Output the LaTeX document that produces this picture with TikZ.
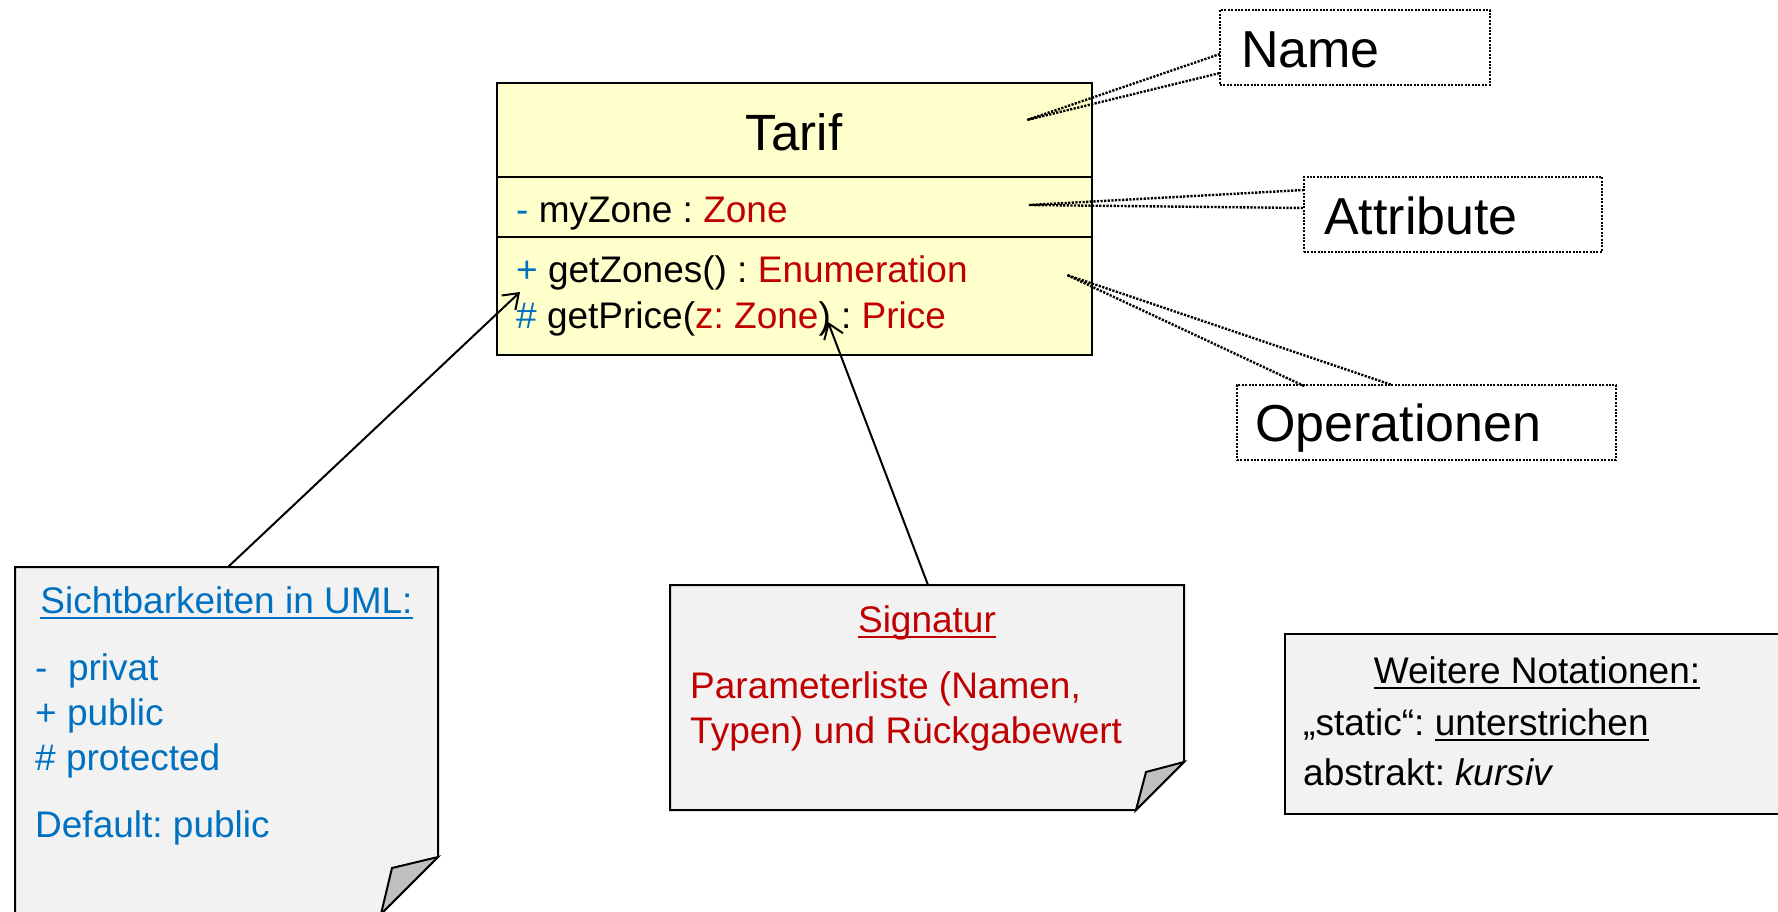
\documentclass[tikz,border=0pt]{standalone}
\usepackage{fontspec}
\setmainfont{Liberation Sans}
\usetikzlibrary{arrows.meta}
\frenchspacing

\definecolor{umlblue}{HTML}{0070C0}
\definecolor{umlred}{HTML}{C00000}
\definecolor{classfill}{HTML}{FFFFCC}
\definecolor{notefill}{HTML}{F2F2F2}
\definecolor{foldfill}{HTML}{C0C0C0}

% underline with a fixed offset below the baseline
\newsavebox\ulinebox
\newcommand\ulinetext[1]{\sbox\ulinebox{#1}\rlap{\rule[-0.16em]{\wd\ulinebox}{0.055em}}\usebox\ulinebox}

\newcommand\bodyfont{\fontsize{37}{44}\selectfont}
\newcommand\labelfont{\fontsize{52}{60}\selectfont}
\newcommand\titlefont{\fontsize{51}{60}\selectfont}

\begin{document}
\begin{tikzpicture}[x=1pt,y=-1pt,
  compartment/.style={draw=black, fill=classfill, line width=2.5pt, minimum width=595pt,
    inner sep=0pt, outer sep=0pt, anchor=north west},
  txt/.style={inner sep=0pt, anchor=base west, font=\bodyfont},
  lbl/.style={inner sep=0pt, anchor=base west, font=\labelfont},
  labelbox/.style={draw=black, line width=2.2pt, dash pattern=on 2pt off 1.4pt,
    inner sep=0pt, outer sep=0pt, anchor=north west, minimum height=75pt},
  callout/.style={draw=black, line width=2.4pt, dash pattern=on 2.2pt off 1.4pt},
  note/.style={draw=black, fill=notefill, line width=2pt, line join=miter},
  fold/.style={draw=black, fill=foldfill, line width=2pt, line join=miter},
  pointer/.style={draw=black, line width=2pt, -{Straight Barb[length=14pt,width=20pt]}}
]
\useasboundingbox (0,0) rectangle (1778,912);
\fill[white] (0,0) rectangle (1778,912);
\clip (0,0) rectangle (1778,912);

% ---- class Tarif ----
\node[compartment, minimum height=94pt]  (cname) at (497,83)  {};
\node[compartment, minimum height=60pt]  (cattr) at (497,177) {};
\node[compartment, minimum height=118pt] (cops)  at (497,237) {};

\node[inner sep=0pt, anchor=base, font=\titlefont] (tarif) at (794,151) {Tarif};
\node[txt] (attr) at (516,223) {\textcolor{umlblue}{-} myZone : \textcolor{umlred}{Zone}};
\node[txt] (op1) at (516,283) {\textcolor{umlblue}{+} getZones() : \textcolor{umlred}{Enumeration}};
\node[txt] (op2) at (516,328) {\textcolor{umlblue}{\#} getPrice(\textcolor{umlred}{z: Zone}) : \textcolor{umlred}{Price}};

% ---- compartment labels ----
\node[labelbox, minimum width=270pt] (namebox) at (1220,10) {};
\node[lbl] (nametxt) at (1241,68) {Name};
\node[labelbox, minimum width=298pt] (attrbox) at (1304,177) {};
\node[lbl] (attrtxt) at (1324,235) {Attribute};
\node[labelbox, minimum width=379pt] (opsbox) at (1237,385) {};
\node[lbl] (opstxt) at (1255,441) {Operationen};

% callout wedges from the compartments to the labels
\coordinate (namept) at (1027,120);
\coordinate (nameA) at (1220,54);
\coordinate (nameB) at (1220,73);
\draw[callout] (nameA) -- (namept) -- (nameB);

\coordinate (attrpt) at (1029,205);
\coordinate (attrA) at (1304,190);
\coordinate (attrB) at (1304,208);
\draw[callout] (attrA) -- (attrpt) -- (attrB);

\coordinate (opspt) at (1067,275);
\coordinate (opsA) at (1304,386);
\coordinate (opsB) at (1392,385);
\draw[callout] (opsA) -- (opspt) -- (opsB);

% ---- note: visibilities ----
\path (15,567) coordinate (vNW) (438,567) coordinate (vNE) (438,857) coordinate (vFold)
      (381,914) coordinate (vFoldB) (15,914) coordinate (vSW) (392,868) coordinate (vTip);
\draw[note] (vNW) -- (vNE) -- (vFold) -- (vFoldB) -- (vSW) -- cycle;
\draw[fold] (vFold) -- (vTip) -- (vFoldB) -- cycle;

\begin{scope}[every node/.append style={text=umlblue}]
\node[inner sep=0pt, anchor=base, font=\bodyfont] (vishead) at (226.5,613) {\ulinetext{Sichtbarkeiten in UML:}};
\node[txt] (vis1) at (35,680) {-\ \ privat};
\node[txt] (vis2) at (35,725) {+ public};
\node[txt] (vis3) at (35,770) {\# protected};
\node[txt] (vis4) at (35,837) {Default: public};
\end{scope}

% ---- note: signature ----
\path (670,585) coordinate (sNW) (1184,585) coordinate (sNE) (1184,762) coordinate (sFold)
      (1136,810) coordinate (sFoldB) (670,810) coordinate (sSW) (1146,772) coordinate (sTip);
\draw[note] (sNW) -- (sNE) -- (sFold) -- (sFoldB) -- (sSW) -- cycle;
\draw[fold] (sFold) -- (sTip) -- (sFoldB) -- cycle;

\begin{scope}[every node/.append style={text=umlred}]
\node[inner sep=0pt, anchor=base, font=\bodyfont] (sighead) at (927,632) {\ulinetext{Signatur}};
\node[txt] (sig1) at (690,698) {Parameterliste (Namen,};
\node[txt] (sig2) at (690,743) {Typen) und Rückgabewert};
\end{scope}

% ---- note: further notations ----
\draw[note] (1285,634) rectangle (1800,814);
\node[inner sep=0pt, anchor=base, font=\bodyfont] (nothead) at (1537,683) {\ulinetext{Weitere Notationen:}};
\node[txt] (not1) at (1303,735) {„static“: \ulinetext{unterstrichen}};
\node[txt] (not2) at (1303,785) {abstrakt: \textit{kursiv}};

% ---- pointers from the notes into the class ----
\coordinate (visstart) at (228,567);
\coordinate (vistip) at (520,292);
\draw[pointer] (visstart) -- (vistip);

\coordinate (sigstart) at (928,585);
\coordinate (sigtip) at (828,322);
\draw[pointer] (sigstart) -- (sigtip);
\end{tikzpicture}
\end{document}
